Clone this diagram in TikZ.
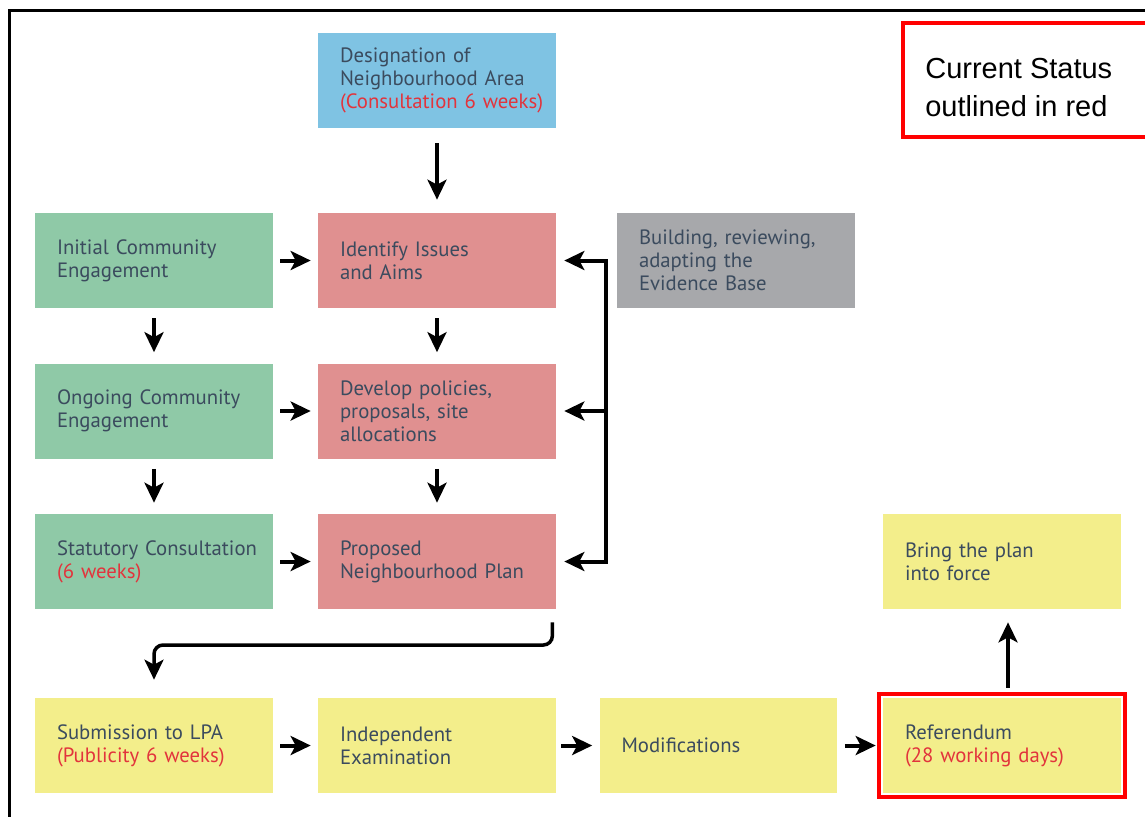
\documentclass[tikz,border=0pt]{standalone}
\usepackage{fontspec}
\setmainfont{PT Sans}
\newfontfamily\notefont{Liberation Sans}
\usetikzlibrary{arrows.meta}

\definecolor{areablue}{HTML}{7FC3E3}
\definecolor{commgreen}{HTML}{8FC9A7}
\definecolor{planpink}{HTML}{E09090}
\definecolor{evidgrey}{HTML}{A7A8AB}
\definecolor{lpayellow}{HTML}{F3EE8B}
\definecolor{slate}{HTML}{3B4B5E}
\definecolor{weekred}{HTML}{E2343C}
\definecolor{statusred}{HTML}{FF0000}

\begin{document}
\begin{tikzpicture}[x=0.02cm, y=-0.02cm, >={Stealth[length=0.4cm,width=0.38cm,inset=0.1cm]},
    stage/.style={minimum width=4.76cm, minimum height=1.9cm, text width=3.88cm, inner xsep=0.44cm, inner ysep=0pt, align=left, font=\fontsize{11.8}{13.1}\selectfont, text=slate},
    flow/.style={->, line width=0.08cm}]
        \useasboundingbox (0,0) rectangle (1145,816);
        % frame and legend
        \draw[line width=0.06cm] (9.5,830) -- (9.5,10.5) -- (1160,10.5);
        \draw[statusred, line width=0.08cm] (1160,23) -- (903,23) -- (903,137) -- (1160,137);
        \node[font=\notefont\fontsize{16.5}{21.5}\selectfont, align=left, anchor=west, inner sep=0pt] (note) at (925,87.5) {Current Status\\outlined in red};

        % stages
        \node[stage, fill=areablue] (area) at (437,80.5) {Designation of\\Neighbourhood Area\\\textcolor{weekred}{\mbox{(Consultation 6 weeks)}}};
        \node[stage, fill=commgreen] (initial) at (154,260.5) {Initial Community\\Engagement};
        \node[stage, fill=planpink] (identify) at (437,260.5) {Identify Issues\\and Aims};
        \node[stage, fill=evidgrey] (evidence) at (736,260.5) {Building, reviewing,\\adapting the\\Evidence Base};
        \node[stage, fill=commgreen] (ongoing) at (154,411) {\mbox{Ongoing Community}\\Engagement};
        \node[stage, fill=planpink] (develop) at (437,411) {Develop policies,\\proposals, site\\allocations};
        \node[stage, fill=commgreen] (statutory) at (154,561.5) {\mbox{Statutory Consultation}\\\textcolor{weekred}{(6 weeks)}};
        \node[stage, fill=planpink] (proposed) at (437,561.5) {Proposed\\\mbox{Neighbourhood Plan}};
        \node[stage, fill=lpayellow] (bring) at (1002,561.5) {Bring the plan\\into force};
        \node[stage, fill=lpayellow] (submit) at (154,745.5) {Submission to LPA\\\textcolor{weekred}{\mbox{(Publicity 6 weeks)}}};
        \node[stage, fill=lpayellow] (exam) at (437,745.5) {Independent\\Examination};
        \node[stage, fill=lpayellow] (modif) at (718.5,745.5) {Modifications};
        \node[stage, fill=lpayellow] (refer) at (1002,745.5) {Referendum\\\textcolor{weekred}{\mbox{(28 working days)}}};
        \draw[statusred, line width=0.08cm] ([xshift=-0.08cm,yshift=0.08cm]refer.north west) rectangle ([xshift=0.08cm,yshift=-0.08cm]refer.south east);

        % arrows
        \draw[flow, shorten <=0.3cm, shorten >=0.26cm] (area) -- (identify);
        \draw[flow, shorten <=0.2cm, shorten >=0.22cm] (initial) -- (ongoing);
        \draw[flow, shorten <=0.2cm, shorten >=0.22cm] (ongoing) -- (statutory);
        \draw[flow, shorten <=0.2cm, shorten >=0.22cm] (identify) -- (develop);
        \draw[flow, shorten <=0.2cm, shorten >=0.22cm] (develop) -- (proposed);
        \draw[flow, shorten <=0.14cm, shorten >=0.14cm] (initial) -- (identify);
        \draw[flow, shorten <=0.14cm, shorten >=0.14cm] (ongoing) -- (develop);
        \draw[flow, shorten <=0.14cm, shorten >=0.14cm] (statutory) -- (proposed);
        \draw[flow, shorten <=0.14cm, shorten >=0.14cm] (submit) -- (exam);
        \draw[flow, shorten <=0.1cm, shorten >=0.14cm] (exam) -- (modif);
        \draw[flow, shorten <=0.14cm, shorten >=0.14cm] (modif) -- (refer);
        \draw[flow, shorten <=0.2cm, shorten >=0.26cm] ([xshift=0.12cm]refer.north) -- ([xshift=0.12cm]bring.south);

        % evidence base feedback
        \coordinate (fbtop) at (606,260.5);
        \coordinate (fbbot) at (606,561.5);
        \draw[<->, line width=0.08cm, shorten <=0.16cm, shorten >=0.16cm] (proposed.east) -- (fbbot) -- (fbtop) -- (identify.east);
        \draw[flow, shorten >=0.16cm] (fbtop |- develop.east) -- (develop.east);

        % down to submission
        \coordinate (dropstart) at ([xshift=-0.08cm]proposed.south east);
        \coordinate (bend) at (0,645);
        \draw[flow, line width=0.07cm, rounded corners=0.18cm, shorten <=0.26cm, shorten >=0.36cm] (dropstart) -- (dropstart |- bend) -| (submit.north);
    \end{tikzpicture}
\end{document}
